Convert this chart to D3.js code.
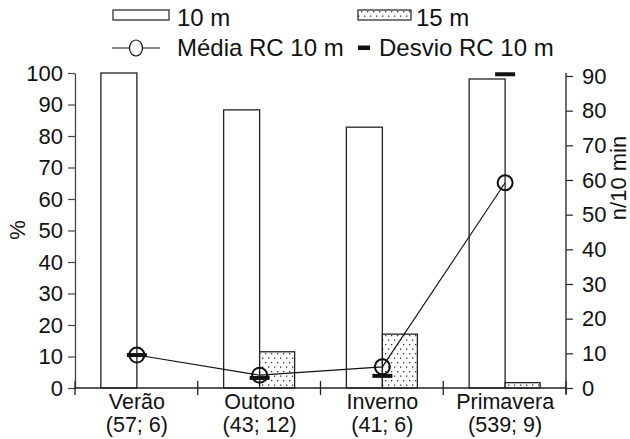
<!DOCTYPE html>
<html>
<head>
<meta charset="utf-8">
<script src="https://cdn.jsdelivr.net/npm/d3@7"></script>
<style>
  html, body { margin: 0; padding: 0; background: #fff; }
  svg { display: block; font-family: "Liberation Sans", Arial, sans-serif; }
</style>
</head>
<body>
<svg id="chart" width="630" height="439"></svg>
<script>
// Seasons and sample counts shown under each category
const seasons = ["Verão", "Outono", "Inverno", "Primavera"];
const sampleCounts = ["(57; 6)", "(43; 12)", "(41; 6)", "(539; 9)"];

// Percentages per distance (left axis)
const pct10m = [100, 88.3, 82.8, 98.1];
const pct15m = [0, 11.5, 17.1, 1.7];

// RC 10 m mean and deviation, counts per 10 min (right axis)
const mediaRC10 = [9.5, 3.7, 6.1, 59.2];
const desvioRC10 = [9.5, 2.9, 3.5, 90.5];

// Axis ticks
const leftTicks = [0, 10, 20, 30, 40, 50, 60, 70, 80, 90, 100];
const rightTicks = [0, 10, 20, 30, 40, 50, 60, 70, 80, 90];

const FS = 22;       // axis text size
const FS_CAT = 21.5; // category label size
const FS_LEG = 24;   // legend text size

const svg = d3.select("#chart");
const plot = { left: 75, right: 566, top: 73, bottom: 388 };

const x = d3.scaleBand().domain(seasons).range([plot.left, plot.right]).padding(0);
const yL = d3.scaleLinear().domain([0, 100]).range([plot.bottom, plot.top]);
const yR = d3.scaleLinear().domain([0, 90]).range([plot.bottom, 76]);
const barW = 36;
const center = s => x(s) + x.bandwidth() / 2 + 0.5;

// Dotted fill for the 15 m bars
const defs = svg.append("defs");
const pat = defs.append("pattern")
  .attr("id", "dots").attr("patternUnits", "userSpaceOnUse")
  .attr("width", 6).attr("height", 9);
pat.append("rect").attr("width", 6).attr("height", 9).attr("fill", "#fff");
pat.append("rect").attr("x", 1).attr("y", 2).attr("width", 1.3).attr("height", 1.3).attr("fill", "#333");
pat.append("rect").attr("x", 4).attr("y", 6.5).attr("width", 1.3).attr("height", 1.3).attr("fill", "#333");

// Bars
const bars = svg.append("g");
seasons.forEach((s, i) => {
  bars.append("rect")
    .attr("x", center(s) - barW).attr("y", yL(pct10m[i]))
    .attr("width", barW).attr("height", yL(0) - yL(pct10m[i]))
    .attr("fill", "#fff").attr("stroke", "#222").attr("stroke-width", 1.3);
  if (pct15m[i] > 0) {
    bars.append("rect")
      .attr("x", center(s)).attr("y", yL(pct15m[i]))
      .attr("width", barW - 1).attr("height", yL(0) - yL(pct15m[i]))
      .attr("fill", "url(#dots)").attr("stroke", "#222").attr("stroke-width", 1.3);
  }
});

// Left axis
const gL = svg.append("g").attr("transform", `translate(${plot.left},0)`)
  .call(d3.axisLeft(yL).tickValues(leftTicks).tickSize(7).tickSizeOuter(0).tickPadding(5));
gL.select(".domain").attr("stroke", "#444").attr("stroke-width", 1.3);
gL.selectAll(".tick line").attr("stroke", "#444").attr("stroke-width", 1.2);
gL.selectAll(".tick text").attr("font-size", FS).attr("fill", "#111")
  .attr("font-family", "Liberation Sans, Arial, sans-serif");

// Right axis
const gR = svg.append("g").attr("transform", `translate(${plot.right},0)`)
  .call(d3.axisRight(yR).tickValues(rightTicks).tickSize(7).tickSizeOuter(0).tickPadding(9));
gR.select(".domain").attr("stroke", "#222").attr("stroke-width", 1.3)
  .attr("d", `M0,${plot.top}V${plot.bottom + 6}`);
gR.selectAll(".tick line").attr("stroke", "#222").attr("stroke-width", 1.2);
gR.selectAll(".tick text").attr("font-size", FS).attr("fill", "#111")
  .attr("font-family", "Liberation Sans, Arial, sans-serif");

// Bottom axis with ticks at category boundaries
const gB = svg.append("g");
gB.append("line").attr("x1", plot.left).attr("x2", plot.right)
  .attr("y1", plot.bottom).attr("y2", plot.bottom)
  .attr("stroke", "#222").attr("stroke-width", 1.3);
const bounds = seasons.map(s => x(s)).concat([x(seasons[seasons.length - 1]) + x.bandwidth()]);
gB.selectAll("line.b").data(bounds).join("line").attr("class", "b")
  .attr("x1", d => d).attr("x2", d => d)
  .attr("y1", plot.bottom - 7).attr("y2", plot.bottom + 7)
  .attr("stroke", "#222").attr("stroke-width", 1.3);
seasons.forEach((s, i) => {
  gB.append("text").attr("text-anchor", "middle").attr("font-size", FS_CAT).attr("fill", "#111")
    .attr("x", center(s)).attr("y", 409).text(s);
  gB.append("text").attr("text-anchor", "middle").attr("font-size", FS_CAT).attr("fill", "#111")
    .attr("x", center(s)).attr("y", 432).text(sampleCounts[i]);
});

// Axis titles
svg.append("text").attr("transform", `translate(25,230) rotate(-90)`)
  .attr("text-anchor", "middle").attr("font-size", FS).attr("fill", "#111").text("%");
svg.append("text").attr("transform", `translate(626,178) rotate(-90)`)
  .attr("text-anchor", "middle").attr("font-size", FS).attr("fill", "#111").text("n/10 min");

// Mean line and markers
const line = d3.line().x((d, i) => center(seasons[i])).y(d => yR(d));
svg.append("path").datum(mediaRC10).attr("d", line)
  .attr("fill", "none").attr("stroke", "#111").attr("stroke-width", 1.1);
svg.append("g").selectAll("circle").data(mediaRC10).join("circle")
  .attr("cx", (d, i) => center(seasons[i])).attr("cy", d => yR(d)).attr("r", 7.5)
  .attr("fill", "none").attr("stroke", "#111").attr("stroke-width", 2);
svg.append("g").selectAll("rect").data(desvioRC10).join("rect")
  .attr("x", (d, i) => center(seasons[i]) - 10).attr("y", d => yR(d) - 2)
  .attr("width", 20).attr("height", 4).attr("fill", "#111");

// Legend
const lg = svg.append("g").attr("font-size", FS_LEG).attr("fill", "#111");
lg.append("rect").attr("x", 113).attr("y", 10).attr("width", 56).attr("height", 10)
  .attr("fill", "#fff").attr("stroke", "#222").attr("stroke-width", 1.2);
lg.append("text").attr("x", 177).attr("y", 26).text("10 m");
lg.append("rect").attr("x", 358).attr("y", 10).attr("width", 53).attr("height", 10)
  .attr("fill", "url(#dots)").attr("stroke", "#222").attr("stroke-width", 1.2);
lg.append("text").attr("x", 416).attr("y", 26).text("15 m");
lg.append("line").attr("x1", 112).attr("x2", 160).attr("y1", 48).attr("y2", 48)
  .attr("stroke", "#111").attr("stroke-width", 1.1);
lg.append("ellipse").attr("cx", 136).attr("cy", 48).attr("rx", 6.5).attr("ry", 8)
  .attr("fill", "#fff").attr("stroke", "#111").attr("stroke-width", 1.2);
lg.append("text").attr("x", 177).attr("y", 56).text("Média RC 10 m");
lg.append("rect").attr("x", 358).attr("y", 45.5).attr("width", 12).attr("height", 4.5).attr("fill", "#111");
lg.append("text").attr("x", 379).attr("y", 56).text("Desvio RC 10 m");
</script>
</body>
</html>
